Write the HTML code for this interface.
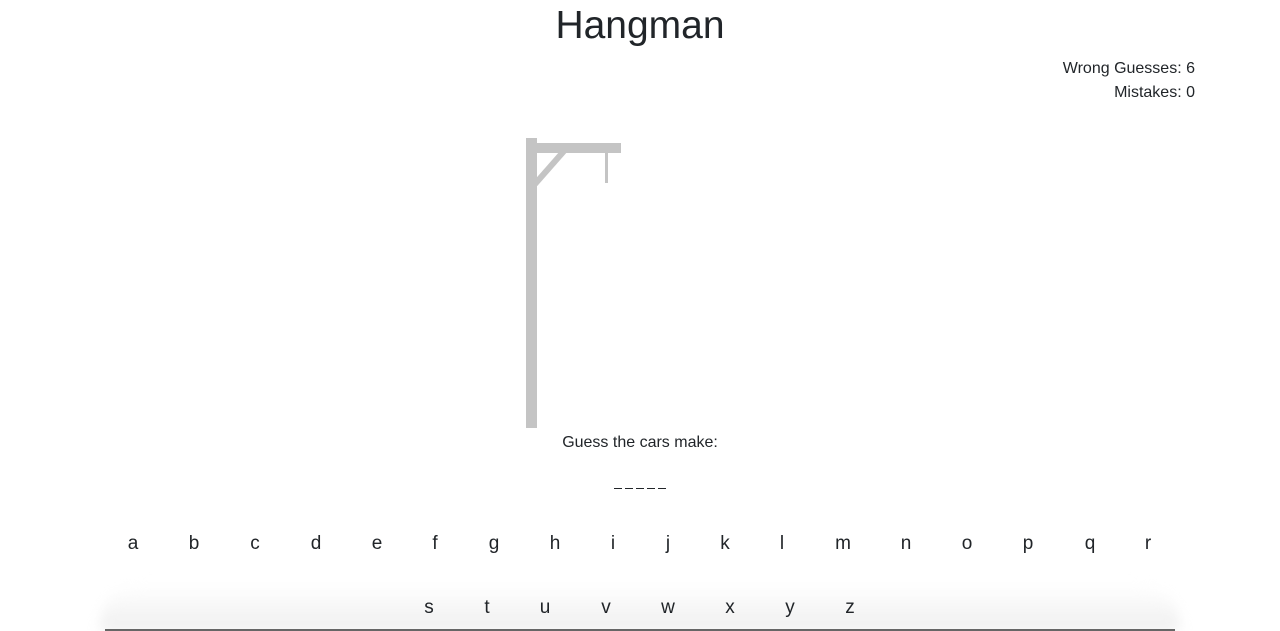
<!DOCTYPE html>
<html><head><meta charset="utf-8"><style>
html,body{margin:0;padding:0;width:1280px;height:631px;overflow:hidden;background:#fff;font-family:"Liberation Sans",sans-serif;color:#212529}
.abs{position:absolute}
h1{position:absolute;left:0;width:1280px;top:2px;margin:0;text-align:center;font-size:39px;font-weight:500;line-height:48px}
.stat{position:absolute;right:85px;font-size:16px;text-align:right;line-height:20px}
.l{position:absolute;font-size:19px;transform:translateX(-50%);line-height:22px;cursor:pointer}
.shadow{position:absolute;left:100px;width:1080px;top:585px;height:46px;background:linear-gradient(#fff,#efefef);border-radius:40px 40px 0 0;filter:blur(6px)}
.blank{display:inline-block;width:8px;height:1px;background:#212529;margin:0 1.5px}
</style></head><body>
<div class="shadow"></div>
<div class="abs" style="left:105px;width:1070px;top:629px;height:2px;background:#666"></div>
<h1>Hangman</h1>
<div class="stat" style="top:59px">Wrong Guesses: 6</div>
<div class="stat" style="top:83px">Mistakes: 0</div>
<svg class="abs" style="left:0;top:0" width="1280" height="631">
<rect x="526" y="138" width="11" height="290" fill="#c4c4c4"/>
<rect x="526" y="143" width="95" height="10" fill="#c4c4c4"/>
<line x1="535" y1="184" x2="564" y2="151" stroke="#c4c4c4" stroke-width="6"/>
<rect x="605" y="153" width="3" height="30" fill="#c4c4c4"/>
</svg>
<div class="abs" style="left:0;width:1280px;top:434px;text-align:center;font-size:16px">Guess the cars make:</div>
<div class="abs" style="left:0;width:1280px;top:488px;text-align:center;font-size:0;line-height:1px"><span class="blank"></span><span class="blank"></span><span class="blank"></span><span class="blank"></span><span class="blank"></span></div>
<div id="keys"></div>
<script>
const row1=["a","b","c","d","e","f","g","h","i","j","k","l","m","n","o","p","q","r"];
const x1=[133,194,255,316,377,435,494,555,613,668,725,782,843,906,967,1028,1090,1148];
const row2=["s","t","u","v","w","x","y","z"];
const x2=[429,487,545,606,668,730,790,850];
const k=document.getElementById('keys');
function add(ch,x,y){const d=document.createElement('div');d.className='l';d.textContent=ch;d.style.left=x+'px';d.style.top=y+'px';


k.appendChild(d);}
row1.forEach((c,i)=>add(c,x1[i],533));
row2.forEach((c,i)=>add(c,x2[i],597));
</script>
</body></html>
